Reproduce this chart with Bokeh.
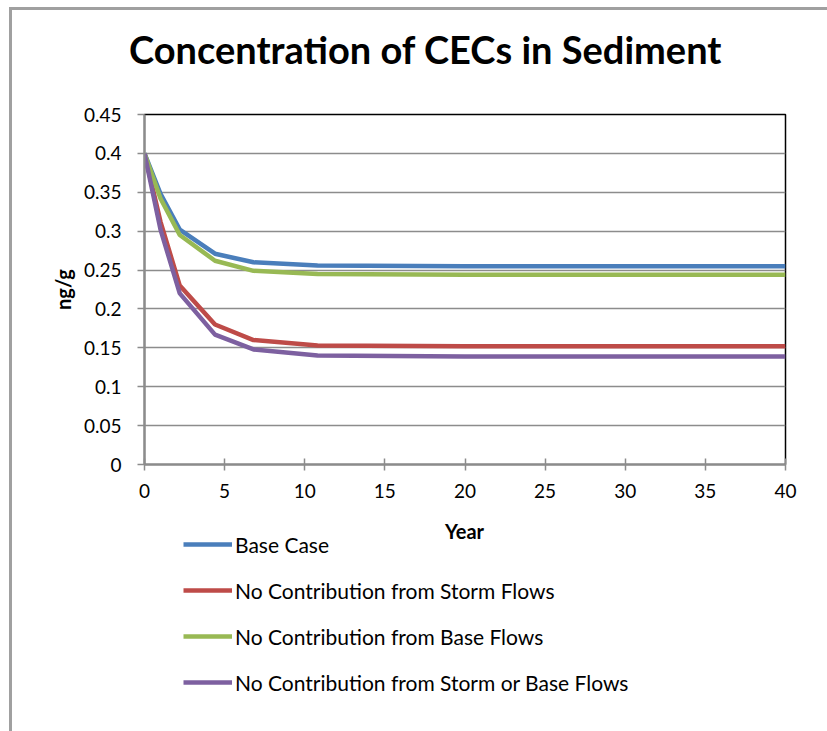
from bokeh.plotting import figure
from bokeh.models import Legend, LegendItem, FixedTicker, InlineStyleSheet, Range1d, Label, Div
from bokeh.layouts import column
from bokeh.embed import file_html
from bokeh.resources import INLINE

# ---- data ----
years = [0, 1, 2.2, 4.4, 6.8, 10.8, 20, 30, 40]
base_case = [0.400, 0.348, 0.302, 0.271, 0.260, 0.256, 0.255, 0.255, 0.255]
no_storm = [0.400, 0.312, 0.230, 0.180, 0.160, 0.153, 0.152, 0.152, 0.152]
no_base = [0.400, 0.342, 0.295, 0.262, 0.249, 0.245, 0.244, 0.244, 0.244]
no_storm_base = [0.400, 0.302, 0.220, 0.167, 0.148, 0.140, 0.139, 0.139, 0.139]

series_names = ["Base Case", "No Contribution from Storm Flows",
                "No Contribution from Base Flows", "No Contribution from Storm or Base Flows"]
series_colors = ["#4A7EBB", "#BE4B48", "#98B954", "#7D60A0"]

x_ticks = [0, 5, 10, 15, 20, 25, 30, 35, 40]
y_ticks = [0, 0.05, 0.1, 0.15, 0.2, 0.25, 0.3, 0.35, 0.4, 0.45]
y_tick_labels = ["0", "0.05", "0.1", "0.15", "0.2", "0.25", "0.3", "0.35", "0.4", "0.45"]

title_text = "Concentration of CECs in Sediment"
x_title = "Year"
y_title = "ng/g"

FONT = "Lato"
W = 827
H0 = 104          # title strip
H1 = 506 - H0     # chart
H2 = 731 - 506    # x title + legend strip
series = [base_case, no_storm, no_base, no_storm_base]

# ---- title ----
title = Div(text=title_text, width=W, height=H0, margin=0,
            styles={"font-family": FONT, "font-size": "38px", "font-weight": "bold",
                    "line-height": "38px", "color": "black", "white-space": "nowrap",
                    "padding-top": "30px", "padding-left": "129px", "box-sizing": "border-box"})

# ---- main chart ----
p = figure(width=W, height=H1, output_backend="svg", toolbar_location=None,
           x_range=Range1d(0, 40), y_range=Range1d(0, 0.45),
           min_border_left=144, min_border_right=42, min_border_top=10, min_border_bottom=42)
p.border_fill_color = None
p.background_fill_color = "white"

p.outline_line_color = "black"
p.outline_line_width = 1.5

p.xgrid.grid_line_color = None
p.ygrid.grid_line_color = "#8c8c8c"
p.ygrid.grid_line_width = 1.5

p.xaxis.ticker = FixedTicker(ticks=x_ticks)
p.yaxis.ticker = FixedTicker(ticks=y_ticks)
p.yaxis.major_label_overrides = {t: l for t, l in zip(y_ticks, y_tick_labels)}

for ax in (p.xaxis[0], p.yaxis[0]):
    ax.axis_line_color = "#8c8c8c"
    ax.axis_line_width = 2
    ax.major_tick_line_color = "#8c8c8c"
    ax.major_tick_line_width = 1.5
    ax.minor_tick_line_color = None
    ax.major_label_text_font = FONT
    ax.major_label_text_font_size = "19px"
    ax.major_label_text_color = "black"
    ax.axis_label_text_font = FONT
    ax.axis_label_text_font_style = "bold"
    ax.axis_label_text_font_size = "20px"
    ax.axis_label_text_color = "black"

p.yaxis.axis_label = y_title
p.xaxis.major_tick_in = 6
p.xaxis.major_tick_out = 6
p.xaxis.major_label_standoff = 13
p.yaxis.major_tick_in = 0
p.yaxis.major_tick_out = 7
p.yaxis.major_label_standoff = 16
p.yaxis.axis_label_standoff = 6

for vals, color in zip(series, series_colors):
    p.line(years, vals, line_color=color, line_width=4.5)

# ---- lower strip: x-axis title and legend (frame aligned with the chart's frame) ----
q = figure(width=W, height=H2, output_backend="svg", toolbar_location=None,
           x_range=Range1d(144, 785), y_range=Range1d(0, H2),
           min_border_left=144, min_border_right=42, min_border_top=0, min_border_bottom=0)
q.axis.visible = False
q.grid.visible = False
q.outline_line_color = None
q.border_fill_color = None
q.background_fill_color = None

q.add_layout(Label(x=464, y=201, text=x_title, text_font=FONT, text_font_style="bold",
                   text_font_size="20px", text_align="center", text_baseline="alphabetic",
                   text_color="black"))

# legend keys carry the same series (they fall outside this strip's view)
legend_renderers = [q.line(years, vals, line_color=c, line_width=4.5)
                    for vals, c in zip(series, series_colors)]
legend = Legend(items=[LegendItem(label=n, renderers=[r]) for n, r in zip(series_names, legend_renderers)],
                location=(39, 36), orientation="vertical",
                glyph_width=49, glyph_height=26, label_height=26, spacing=20,
                label_standoff=3, padding=0, margin=0,
                border_line_color=None, background_fill_alpha=0,
                label_text_font=FONT, label_text_font_size="21px", label_text_color="black")
q.add_layout(legend)

layout = column(title, p, q, spacing=0)
layout.stylesheets = [InlineStyleSheet(
    css=":host { box-shadow: inset 9px 7px 0 0 white, inset 12px 10px 0 0 #a0a0a0; }")]

open("out.html", "w").write(file_html(layout, INLINE))
